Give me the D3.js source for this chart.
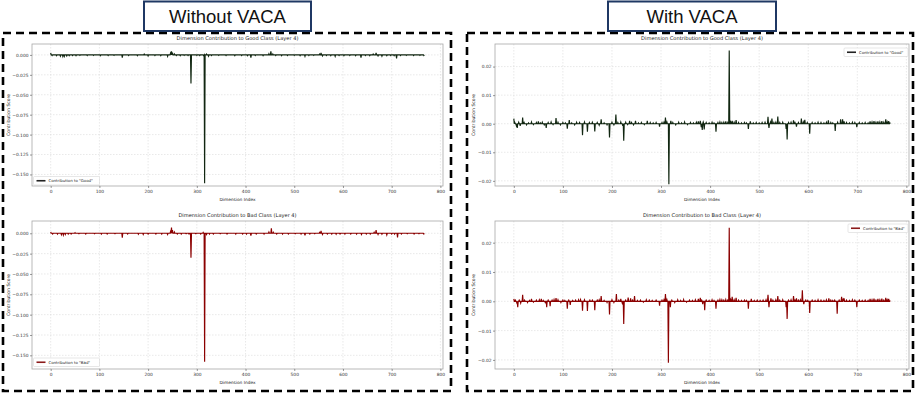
<!DOCTYPE html>
<html>
<head>
<meta charset="utf-8">
<script src="https://cdn.jsdelivr.net/npm/d3@7"></script>
<style>
  body { margin: 0; background: #fff; }
  svg { display: block; }
</style>
</head>
<body>
<svg id="fig" width="920" height="394"></svg>
<script>
// ── Data (sparse readings: [dimension, score]; unlisted dims read as 0) ──

const dims = d3.range(768);
const xTicks = [0, 100, 200, 300, 400, 500, 600, 700, 800];
const yTicksNoVaca = [0, -0.025, -0.05, -0.075, -0.1, -0.125, -0.15];
const yTicksVaca = [0.02, 0.01, 0, -0.01, -0.02];

const goodNoVaca = [
  [0,0.0025],[3,-0.0008],[12,-0.001],[20,-0.0015],[25,-0.002],[28,-0.0018],[33,-0.0012],[38,-0.001],
  [45,-0.0008],[52,-0.001],[60,-0.0006],[75,-0.0008],[88,-0.0006],[102,-0.001],[118,-0.0008],
  [130,-0.0006],[147,-0.0035],[160,-0.0008],[178,-0.001],[192,0.001],[200,-0.0012],[214,-0.0008],
  [226,-0.001],[240,-0.0018],[246,0.002],[248,0.0045],[250,0.003],[254,0.0012],[258,-0.0008],
  [266,-0.001],[274,-0.0006],[282,-0.0008],[288,-0.036],[300,-0.0006],[306,-0.0008],[314,-0.001],
  [316,-0.161],[320,0.001],[324,-0.0015],[330,-0.0008],[345,-0.0006],[360,-0.0008],[378,-0.001],
  [392,-0.0008],[404,-0.001],[411,-0.0035],[420,-0.0008],[436,-0.001],[448,0.0015],[452,0.0045],
  [456,0.0012],[462,-0.0008],[474,-0.001],[486,-0.0008],[500,-0.0006],[512,-0.001],[522,-0.0018],
  [530,-0.0008],[540,-0.0006],[552,0.001],[555,0.0025],[558,-0.0012],[566,-0.0008],[575,-0.001],
  [584,-0.0018],[592,-0.0008],[602,-0.001],[614,-0.0008],[626,-0.001],[637,-0.0035],[646,-0.0008],
  [655,-0.001],[662,0.001],[668,0.0025],[672,-0.0012],[680,-0.0015],[690,-0.001],[698,-0.0008],
  [705,-0.001],[710,-0.0045],[718,-0.0008],[730,-0.0006],[745,-0.0008],[758,-0.0006],[766,-0.0008]
];

const badNoVaca = [
  [0,0.0015],[4,-0.0008],[14,-0.001],[22,-0.0018],[26,-0.0022],[30,-0.0015],[36,-0.001],[42,-0.0008],
  [50,0.0008],[58,-0.0006],[72,-0.0008],[90,-0.0006],[104,-0.001],[116,-0.0008],[132,-0.0006],
  [147,-0.0055],[158,-0.0008],[180,-0.0012],[190,-0.0015],[200,-0.001],[216,-0.0008],[228,-0.001],
  [240,-0.0015],[246,0.002],[248,0.007],[250,0.004],[254,0.0015],[260,-0.0008],[268,-0.001],
  [278,-0.0006],[284,-0.0008],[288,-0.030],[298,-0.0006],[308,-0.0008],[313,0.001],[316,-0.158],
  [320,-0.0015],[326,-0.001],[334,-0.0008],[348,-0.0006],[362,-0.0008],[380,-0.001],[394,-0.0008],
  [402,-0.001],[411,-0.003],[422,-0.0008],[438,-0.001],[448,0.0015],[453,0.006],[457,0.0012],
  [464,-0.0008],[476,-0.001],[488,-0.0008],[502,-0.0006],[514,-0.001],[522,-0.0025],[532,-0.0008],
  [542,-0.0006],[552,0.001],[555,0.003],[558,-0.0015],[568,-0.0008],[577,-0.001],[586,-0.0012],
  [594,-0.0008],[604,-0.001],[616,-0.0008],[628,-0.001],[638,-0.0015],[648,-0.0008],[656,-0.001],
  [664,0.0012],[668,0.004],[672,-0.0015],[680,-0.0012],[690,-0.002],[700,-0.0008],[706,-0.001],
  [712,-0.005],[720,-0.0008],[732,-0.0006],[746,-0.0008],[756,-0.0006],[766,-0.0008]
];

const goodVaca = [
  [0,0.0018],[2,0.0004],[5,-0.0006],[7,-0.0015],[10,0.0005],[13,-0.0008],[18,0.0022],[21,0.0004],
  [26,-0.0004],[30,0.0003],[36,0.0006],[40,-0.0003],[46,0.0004],[50,0.0008],[54,0.0003],[58,0.0005],
  [62,-0.0004],[66,-0.0015],[70,0.0004],[76,0.0006],[80,-0.0003],[86,0.002],[90,0.0005],[95,-0.0004],
  [100,0.0004],[105,0.0003],[109,-0.0017],[113,0.0013],[118,0.0003],[124,-0.0004],[128,0.0005],
  [134,0.0004],[140,-0.004],[144,0.0006],[150,-0.0028],[154,0.0004],[160,0.0005],[165,-0.0027],
  [170,0.0004],[174,-0.0005],[178,0.0015],[184,0.0003],[190,-0.0004],[195,-0.0048],[200,0.0005],
  [204,-0.0004],[208,0.0032],[212,0.0004],[218,0.0006],[222,-0.0008],[224,-0.006],[228,0.0005],
  [232,-0.0003],[236,0.001],[240,0.0004],[244,-0.0004],[248,0.001],[254,0.0003],[260,0.0004],
  [266,-0.0003],[272,0.001],[278,0.0004],[284,0.0003],[290,0.0004],[297,-0.001],[302,0.0004],
  [306,0.0005],[309,0.0022],[312,0.0006],[316,-0.0212],[320,0.001],[324,0.0004],[330,-0.0004],
  [336,0.0005],[342,0.0003],[348,0.0006],[354,-0.0003],[360,0.0004],[366,0.0003],[372,0.0005],
  [376,0.0008],[380,0.001],[382,-0.0012],[384,-0.0022],[386,0.0006],[388,-0.002],[392,0.0004],
  [398,0.0003],[404,0.0005],[408,0.0003],[412,-0.0028],[416,0.0004],[420,0.0006],[424,0.0004],
  [428,0.0005],[432,0.0008],[436,0.0004],[439,0.0256],[442,0.0006],[445,0.001],[449,0.0005],
  [453,0.0013],[458,0.0004],[464,0.0003],[470,0.0004],[474,0.0003],[478,-0.0018],[482,0.0008],
  [488,0.0003],[494,0.0004],[500,0.0003],[506,0.0004],[512,0.0005],[518,0.0024],[520,-0.0015],
  [523,0.0006],[526,0.0018],[530,0.0004],[534,0.0005],[538,0.0025],[542,0.0004],[548,0.0005],
  [555,-0.0018],[557,-0.0055],[560,0.0004],[565,0.0005],[570,0.0012],[573,0.0004],[576,-0.001],
  [580,0.0004],[586,0.0018],[590,0.0006],[593,0.0014],[598,0.0004],[603,-0.0035],[608,0.0004],
  [614,0.0003],[620,0.0005],[626,0.0004],[632,0.0003],[637,0.0005],[641,0.0012],[646,0.0004],
  [650,0.0003],[655,-0.0025],[660,0.0005],[666,0.0015],[670,0.0015],[673,0.0008],[678,0.0004],
  [684,0.0003],[690,0.0005],[695,0.0004],[699,-0.0012],[704,0.0004],[710,0.0003],[716,0.0004],
  [722,0.0003],[726,0.0008],[730,0.0006],[734,0.0009],[738,0.0005],[742,0.0008],[746,0.0006],
  [750,0.0009],[754,0.0005],[758,0.0015],[761,0.0006],[764,0.0009],[767,0.0004]
];

const badVaca = [
  [0,0.0008],[3,0.0004],[6,-0.0005],[8,-0.002],[11,0.0004],[14,-0.0006],[18,0.0022],[22,0.0004],
  [28,-0.0004],[32,0.0003],[36,0.0008],[40,-0.0003],[46,0.0004],[52,0.0005],[56,0.0008],[60,0.0003],
  [64,-0.0004],[67,-0.002],[70,0.0004],[74,-0.0017],[78,0.0004],[82,0.0006],[86,0.0011],[90,0.0005],
  [96,-0.0004],[100,0.0004],[104,0.0003],[109,-0.0025],[112,0.0004],[115,-0.0012],[120,0.0003],
  [126,0.0004],[132,0.0005],[136,0.0006],[140,-0.0032],[144,0.0005],[150,-0.0033],[155,0.0004],
  [160,0.0004],[165,-0.003],[170,0.0004],[174,0.0005],[178,0.0018],[184,0.0003],[190,-0.0004],
  [195,-0.0045],[200,0.0005],[204,-0.0004],[209,0.0025],[214,0.0004],[218,0.0008],[221,-0.0006],
  [224,-0.0077],[228,0.0004],[233,0.0013],[238,0.001],[242,0.0004],[246,0.0018],[252,0.0003],
  [258,0.0004],[264,-0.0003],[270,0.0005],[276,0.0004],[282,0.0003],[290,0.0004],[297,-0.0015],
  [302,0.0004],[306,0.0005],[309,0.0025],[312,0.0006],[315,-0.021],[319,-0.002],[322,0.0004],
  [328,-0.0004],[334,0.0005],[340,0.0003],[346,0.0006],[352,-0.0003],[358,0.0004],[364,0.0003],
  [370,0.0005],[376,0.0008],[380,0.0012],[383,0.0004],[385,-0.001],[389,-0.003],[392,0.0004],
  [398,0.0003],[404,0.0005],[408,0.0003],[412,-0.0025],[416,0.0004],[420,0.0006],[424,0.0005],
  [428,0.0004],[432,0.0006],[436,0.0004],[439,0.0251],[442,0.0006],[445,0.0015],[449,0.0005],
  [453,0.0012],[458,0.0004],[464,0.0003],[470,0.0004],[474,0.0003],[478,-0.0025],[484,0.0008],
  [490,0.0003],[496,0.0004],[502,0.0003],[508,0.0004],[514,0.0005],[518,0.0022],[520,-0.002],
  [524,0.001],[528,0.0004],[534,0.0005],[538,0.0018],[542,0.0004],[548,0.0005],[555,-0.002],
  [557,-0.006],[560,0.0004],[565,0.0005],[570,0.0018],[573,0.0004],[576,0.001],[580,0.0004],
  [584,0.0005],[588,0.0038],[591,-0.001],[595,0.0004],[599,0.0003],[603,-0.004],[608,0.0004],
  [614,0.0003],[620,0.0005],[626,0.0004],[632,0.0003],[637,0.0005],[642,0.001],[646,0.0004],
  [650,0.0003],[654,0.0004],[659,-0.0042],[663,0.0004],[668,0.0015],[671,0.0006],[673,0.001],
  [678,0.0004],[684,0.0003],[690,0.0005],[695,0.0004],[699,-0.002],[704,0.0004],[710,0.0003],
  [716,0.0004],[722,0.0003],[726,0.0008],[730,0.0005],[734,0.0009],[738,0.0004],[742,0.0008],
  [746,0.0005],[750,0.0009],[754,0.0004],[758,0.0012],[761,0.0005],[764,0.0008],[767,0.0003]
];

// ── Helpers ───────────────────────────────────────────────────────────

function dense(readings) {
  const m = new Map(readings);
  return dims.map(i => ({ i, v: m.has(i) ? m.get(i) : 0 }));
}

const svg = d3.select("#fig");
const FONT = "'DejaVu Sans', sans-serif";

// ── Frames + headers ──────────────────────────────────────────────────

const frames = [
  { x: 3, y: 33, w: 448, h: 358 },
  { x: 467, y: 33, w: 446, h: 358 },
];
svg.append("g").selectAll("rect").data(frames).join("rect")
  .attr("x", d => d.x).attr("y", d => d.y).attr("width", d => d.w).attr("height", d => d.h)
  .attr("fill", "none").attr("stroke", "#000").attr("stroke-width", 2.6)
  .attr("stroke-dasharray", "8,5");

const headers = [
  { x: 144, w: 167, label: "Without VACA" },
  { x: 608, w: 168, label: "With VACA" },
];
const hg = svg.append("g").selectAll("g").data(headers).join("g");
hg.append("rect")
  .attr("x", d => d.x).attr("y", 1.5).attr("width", d => d.w).attr("height", 29.5)
  .attr("fill", "#fff").attr("stroke", "#1f3864").attr("stroke-width", 2);
hg.append("text")
  .attr("x", d => d.x + d.w / 2).attr("y", 23)
  .attr("text-anchor", "middle")
  .attr("font-family", "'Liberation Sans', Arial, sans-serif")
  .attr("font-size", 18.5).attr("fill", "#111")
  .text(d => d.label);

// ── Panels ────────────────────────────────────────────────────────────

const xDomain = [-38.35, 805.35];

const GOOD = { line: "#112611", fill: "#2e7d32", legend: "#222" };
const BAD  = { line: "#8b0000", fill: "#d62728", legend: "#8b1a1a" };

function panel(o) {
  const g = svg.append("g");
  const x = d3.scaleLinear().domain(xDomain).range([o.x0, o.x1]);
  const y = d3.scaleLinear().domain(o.yDomain).range([o.y1, o.y0]);

  // grid
  g.append("g").selectAll("line").data(xTicks).join("line")
    .attr("x1", d => x(d)).attr("x2", d => x(d)).attr("y1", o.y0).attr("y2", o.y1)
    .attr("stroke", "#dadada").attr("stroke-width", 0.6).attr("stroke-dasharray", "1.5,1.5");
  g.append("g").selectAll("line").data(o.yTicks).join("line")
    .attr("x1", o.x0).attr("x2", o.x1).attr("y1", d => y(d)).attr("y2", d => y(d))
    .attr("stroke", "#dadada").attr("stroke-width", 0.6).attr("stroke-dasharray", "1.5,1.5");

  // series
  const pts = dense(o.data);
  const area = d3.area().x(d => x(d.i)).y0(y(0)).y1(d => y(d.v));
  const line = d3.line().x(d => x(d.i)).y(d => y(d.v));
  g.append("path").datum(pts).attr("d", area)
    .attr("fill", o.col.fill).attr("opacity", 0.5);
  g.append("path").datum(pts).attr("d", line)
    .attr("fill", "none").attr("stroke", o.col.line).attr("stroke-width", 1.15);

  // frame
  g.append("rect")
    .attr("x", o.x0).attr("y", o.y0).attr("width", o.x1 - o.x0).attr("height", o.y1 - o.y0)
    .attr("fill", "none").attr("stroke", "#a8a8a8").attr("stroke-width", 0.8);

  // axes
  const ax = g.append("g").attr("transform", `translate(0,${o.y1})`)
    .call(d3.axisBottom(x).tickValues(xTicks).tickSize(2).tickPadding(1.5));
  const ay = g.append("g").attr("transform", `translate(${o.x0},0)`)
    .call(d3.axisLeft(y).tickValues(o.yTicks).tickSize(2).tickPadding(1.5).tickFormat(d3.format(o.fmt)));
  [ax, ay].forEach(a => {
    a.select(".domain").remove();
    a.selectAll("line").attr("stroke", "#555").attr("stroke-width", 0.6);
    a.selectAll("text").attr("font-family", FONT).attr("font-size", 4.4).attr("fill", "#333");
  });

  // title + labels
  const cx = (o.x0 + o.x1) / 2;
  g.append("text").attr("x", cx).attr("y", o.y0 - 4.5)
    .attr("text-anchor", "middle").attr("font-family", FONT).attr("font-size", 5.1)
    .attr("fill", "#222").text(o.title);
  g.append("text").attr("x", cx).attr("y", o.y1 + 15)
    .attr("text-anchor", "middle").attr("font-family", FONT).attr("font-size", 4.3)
    .attr("fill", "#222").text("Dimension Index");
  g.append("text")
    .attr("transform", `translate(${o.ylabX},${(o.y0 + o.y1) / 2}) rotate(-90)`)
    .attr("text-anchor", "middle").attr("font-family", FONT).attr("font-size", 4.5)
    .attr("fill", "#222").text("Contribution Score");

  // legend
  const lg = g.append("g").attr("transform", `translate(${o.leg[0]},${o.leg[1]})`);
  lg.append("rect").attr("width", o.leg[2]).attr("height", 8.5).attr("rx", 1)
    .attr("fill", "#fff").attr("fill-opacity", 0.9).attr("stroke", "#cfcfcf").attr("stroke-width", 0.5);
  lg.append("line").attr("x1", 3).attr("x2", 12).attr("y1", 4.25).attr("y2", 4.25)
    .attr("stroke", o.col.legend).attr("stroke-width", 1.6);
  lg.append("text").attr("x", 15).attr("y", 5.7)
    .attr("font-family", FONT).attr("font-size", 3.9).attr("fill", "#222").text(o.legText);
}

panel({ x0: 32, x1: 443, y0: 44, y1: 186, yDomain: [-0.1645, 0.0137], yTicks: yTicksNoVaca, fmt: ".3f",
  data: goodNoVaca, col: GOOD, title: "Dimension Contribution to Good Class (Layer 4)",
  legText: 'Contribution to "Good"', leg: [33.5, 176.5, 66], ylabX: 10 });
panel({ x0: 32, x1: 443, y0: 221, y1: 369, yDomain: [-0.1668, 0.0151], yTicks: yTicksNoVaca, fmt: ".3f",
  data: badNoVaca, col: BAD, title: "Dimension Contribution to Bad Class (Layer 4)",
  legText: 'Contribution to "Bad"', leg: [33.5, 358, 66], ylabX: 10 });
panel({ x0: 495, x1: 909, y0: 44, y1: 186, yDomain: [-0.0218, 0.0279], yTicks: yTicksVaca, fmt: ".2f",
  data: goodVaca, col: GOOD, title: "Dimension Contribution to Good Class (Layer 4)",
  legText: 'Contribution to "Good"', leg: [844, 48, 64], ylabX: 475 });
panel({ x0: 495, x1: 909, y0: 221, y1: 369, yDomain: [-0.0231, 0.0274], yTicks: yTicksVaca, fmt: ".2f",
  data: badVaca, col: BAD, title: "Dimension Contribution to Bad Class (Layer 4)",
  legText: 'Contribution to "Bad"', leg: [848, 224, 60], ylabX: 475 });
</script>
</body>
</html>
